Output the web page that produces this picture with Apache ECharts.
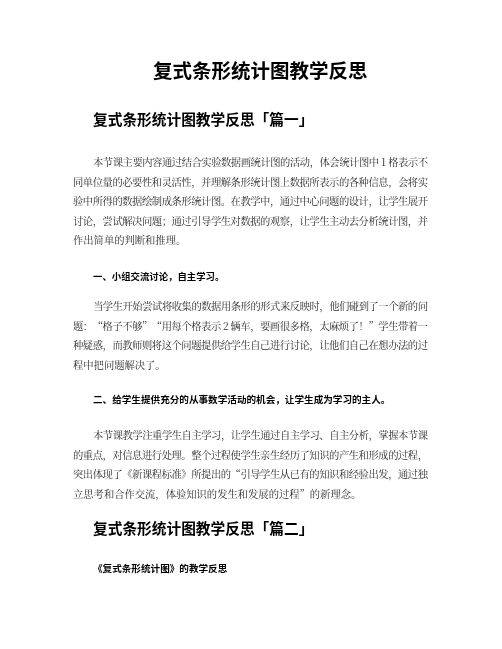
<!DOCTYPE html>
<html>
<head>
<meta charset="utf-8">
<script src="https://cdn.jsdelivr.net/npm/echarts@6/dist/echarts.min.js"></script>
<style>
html,body{margin:0;padding:0;background:#fff;}
#c{width:502px;height:649px;}
</style>
</head>
<body>
<div id="c"></div>
<script>
var docTitle = "复式条形统计图教学反思";
var heading1 = "复式条形统计图教学反思「篇一」";
var para1 = [
  "本节课主要内容通过结合实验数据画统计图的活动，体会统计图中 1 格表示不",
  "同单位量的必要性和灵活性，并理解条形统计图上数据所表示的各种信息，会将实",
  "验中所得的数据绘制成条形统计图。在教学中，通过中心问题的设计，让学生展开",
  "讨论，尝试解决问题；通过引导学生对数据的观察，让学生主动去分析统计图，并",
  "作出简单的判断和推理。"
];
var sub1 = "一、小组交流讨论，自主学习。";
var para2 = [
  "当学生开始尝试将收集的数据用条形的形式来反映时，他们碰到了一个新的问",
  "题：“格子不够”“用每个格表示 2 辆车，要画很多格，太麻烦了！”学生带着一",
  "种疑惑，而教师则将这个问题提供给学生自己进行讨论，让他们自己在想办法的过",
  "程中把问题解决了。"
];
var sub2 = "二、给学生提供充分的从事数学活动的机会，让学生成为学习的主人。";
var para3 = [
  "本节课教学注重学生自主学习，让学生通过自主学习、自主分析，掌握本节课",
  "的重点，对信息进行处理。整个过程使学生亲生经历了知识的产生和形成的过程，",
  "突出体现了《新课程标准》所提出的“引导学生从已有的知识和经验出发，通过独",
  "立思考和合作交流，体验知识的发生和发展的过程”的新理念。"
];
var heading2 = "复式条形统计图教学反思「篇二」";
var sub3 = "《复式条形统计图》的教学反思";

var chart = echarts.init(document.getElementById('c'), null, {renderer: 'canvas'});
var BODY_FONT = '"Noto Serif CJK SC","Noto Sans CJK SC",serif';
var HEAD_FONT = '"Noto Sans CJK SC",sans-serif';
var LH = 19.6;
var BODY_SIZE = 10.3;
var RIGHT = 428;
var elements = [];
var mctx = document.createElement('canvas').getContext('2d');

function addText(txt, x, y, size, weight, color, font) {
  elements.push({
    type: 'text', left: x, top: y - size / 2 - 1,
    style: { text: txt, fontSize: size, fontWeight: weight, fill: color, fontFamily: font }
  });
}
function addJustified(txt, x0, y, size, color, font) {
  var chars = Array.from(txt);
  mctx.font = 'normal normal ' + size + 'px ' + font;
  var widths = chars.map(function (c) { return mctx.measureText(c).width; });
  var total = widths.reduce(function (a, b) { return a + b; }, 0);
  var gap = chars.length > 1 ? (RIGHT - x0 - total) / (chars.length - 1) : 0;
  var x = x0;
  chars.forEach(function (c, i) {
    if (c !== ' ') {
      elements.push({
        type: 'text', x: x, y: y - size / 2 - 1,
        style: { text: c, fontSize: size, fill: color, fontFamily: font }
      });
    }
    x += widths[i] + gap;
  });
}
function addPara(lines, y0) {
  lines.forEach(function (l, i) {
    var x0 = i === 0 ? 93 : 73;
    var y = y0 + i * LH;
    if (i < lines.length - 1) addJustified(l, x0, y, BODY_SIZE, '#2b2b2b', BODY_FONT);
    else addText(l, x0, y, BODY_SIZE, 'normal', '#2b2b2b', BODY_FONT);
  });
}

addText(docTitle, 153, 72, 19.5, 'bold', '#000', HEAD_FONT);
addText(heading1, 93, 120, 14.7, 'bold', '#000', HEAD_FONT);
addPara(para1, 163);
addText(sub1, 93, 277, 9.4, 'bold', '#000', HEAD_FONT);
addPara(para2, 307);
addText(sub2, 93, 400, 9.6, 'bold', '#000', HEAD_FONT);
addPara(para3, 436);
addText(heading2, 93, 529, 14.7, 'bold', '#000', HEAD_FONT);
addText(sub3, 93, 569, 9.6, 'bold', '#000', HEAD_FONT);

chart.setOption({
  backgroundColor: '#fff',
  animation: false,
  graphic: { elements: elements }
});
</script>
</body>
</html>
